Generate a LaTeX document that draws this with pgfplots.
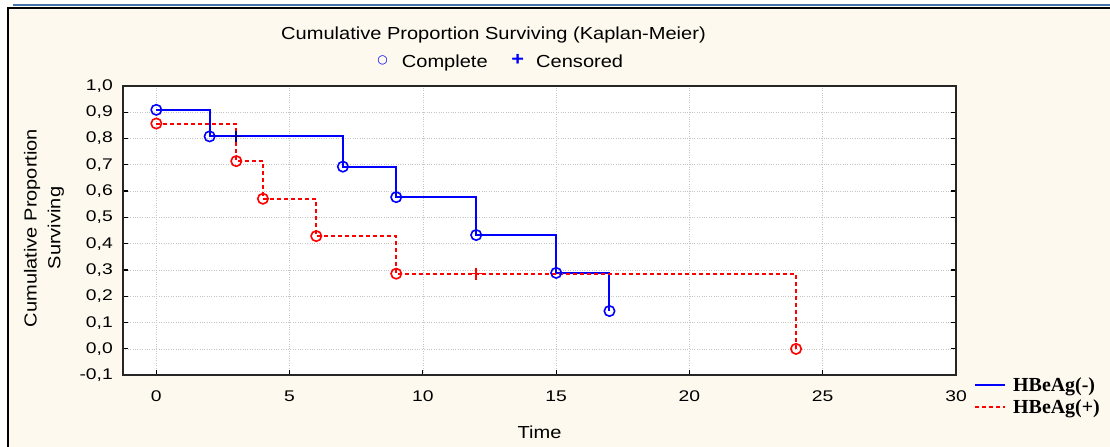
\documentclass[border=0pt]{standalone}
\usepackage{pgfplots}
\pgfplotsset{compat=1.18}
\usepackage{fontspec}
\setmainfont{Liberation Sans}[FakeStretch=1.15]
\newfontfamily\tickfont{Liberation Sans}[FakeStretch=1.25]
\newfontfamily\legfont{Liberation Serif}
\newfontfamily\symfont{DejaVu Sans}
\definecolor{cream}{RGB}{254,249,238}
\definecolor{topblue}{RGB}{70,114,172}
\definecolor{kmblue}{RGB}{0,0,255}
\definecolor{kmred}{RGB}{255,0,0}
\begin{document}
\begin{tikzpicture}
\fill[white] (0,0) rectangle (1110bp,447bp);
\useasboundingbox (0,0) rectangle (1110bp,447bp);
\fill[cream] (8bp,0) rectangle (1110bp,439bp);
\draw[black, line width=1.2bp] (8bp,0) -- (8bp,439bp) -- (1110bp,439bp);
\draw[topblue, line width=2bp] (13bp,441.5bp) -- (1110bp,441.5bp);
\begin{axis}[at={(123bp,71.8bp)}, anchor=south west, scale only axis,
  width=833bp, height=289.3bp,
  xmin=-1.25, xmax=30, ymin=-0.1, ymax=1.0,
  xtick={0,5,10,15,20,25,30},
  ytick={-0.1,0,0.1,0.2,0.3,0.4,0.5,0.6,0.7,0.8,0.9,1.0},
  axis background/.style={fill=white},
  axis line style={line width=1.4bp, black!85},
  grid=major, major grid style={dotted, gray!45, line width=0.7bp},
  tick style={black, line width=1.2bp}, major tick length=5bp,
  xtick pos=left,
  /pgf/number format/assume math mode=true,
  every tick label/.append style={font=\tickfont\fontsize{15.5}{18}\selectfont, inner sep=0pt},
  yticklabel style={/pgf/number format/fixed, /pgf/number format/fixed zerofill,
     /pgf/number format/precision=1, /pgf/number format/use comma, xshift=-10bp},
  xticklabel style={yshift=-15.5bp},
  legend image code/.code={\draw[#1] (0bp,0bp) -- (30bp,0bp); \path (35bp,0bp);},
  legend cell align=left,
  legend style={draw=none, fill=none, inner sep=0pt,
     at={(axis description cs:1.0216,-0.0)}, anchor=north west,
     font=\legfont\bfseries\fontsize{20}{22}\selectfont,
     row sep=3bp,
     nodes={inner sep=2bp}},
]
\addplot[kmblue, line width=2bp, const plot, mark=o, mark size=5.2bp,
  mark options={solid, fill=white, line width=1.6bp}]
  coordinates {(0,0.909)(2,0.808)(7,0.693)(9,0.577)(12,0.433)(15,0.289)(17,0.144)};
\addlegendentry{HBeAg(-)}
\addplot[kmred, line width=2bp, const plot, dash pattern=on 4bp off 3bp, mark=o, mark size=5.2bp,
  mark options={solid, fill=white, line width=1.6bp}]
  coordinates {(0,0.857)(3,0.714)(4,0.571)(6,0.429)(9,0.286)(24,0)};
\addlegendentry{HBeAg(+)}
\addplot[kmblue!60!black, only marks, mark=+, mark size=5.5bp, mark options={line width=1.6bp}, forget plot]
  coordinates {(3,0.808)};
\addplot[kmred, only marks, mark=+, mark size=6bp, mark options={line width=1.6bp}, forget plot]
  coordinates {(12,0.286)};
\end{axis}
\node[anchor=base, font=\fontsize{17.5}{20}\selectfont, inner sep=0pt] at (493.5bp,407bp)
  {Cumulative Proportion Surviving (Kaplan-Meier)};
\node[anchor=center, text=kmblue, inner sep=0pt, font=\symfont\fontsize{12}{12}\selectfont] at (382.7bp,386.7bp) {○};
\node[anchor=base west, font=\fontsize{17.5}{20}\selectfont, inner sep=0pt] at (401.7bp,379.7bp) {Complete};
\node[anchor=center, text=kmblue, inner sep=0pt, font=\bfseries\fontsize{19}{20}\selectfont] at (517.7bp,386.7bp) {+};
\node[anchor=base west, font=\fontsize{17.5}{20}\selectfont, inner sep=0pt] at (536bp,379.7bp) {Censored};
\node[rotate=90, align=center, font=\fontsize{17.5}{24}\selectfont, inner sep=0pt] at (44bp,219bp)
  {Cumulative Proportion\\Surviving};
\node[anchor=base, font=\fontsize{17.5}{20}\selectfont, inner sep=0pt] at (539.5bp,8.7bp) {Time};
\end{tikzpicture}
\end{document}
